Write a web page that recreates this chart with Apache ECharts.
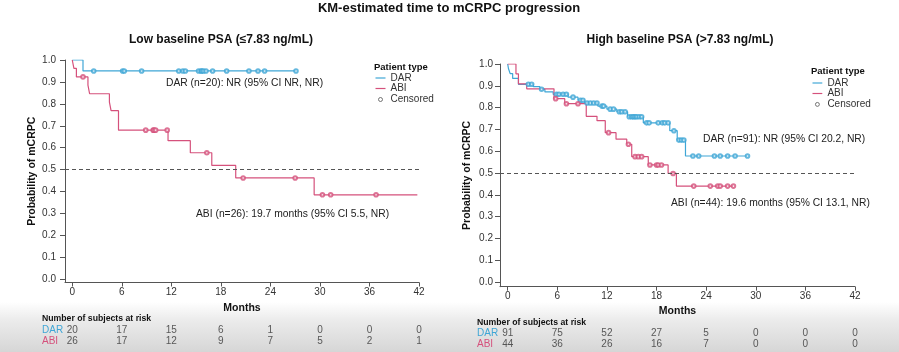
<!DOCTYPE html>
<html><head><meta charset="utf-8">
<script src="https://cdn.jsdelivr.net/npm/echarts@6/dist/echarts.min.js"></script>
<style>html,body{margin:0;padding:0;background:#fff}#c{width:899px;height:352px}</style>
</head><body><div id="c"></div>
<script>
// ---------- data ----------
const monthTicks = [0, 6, 12, 18, 24, 30, 36, 42];
const probTicks = [0, 0.1, 0.2, 0.3, 0.4, 0.5, 0.6, 0.7, 0.8, 0.9, 1.0];
const riskRows = ['ABI', 'DAR'];

// Low baseline PSA
const lowDarTimes = [0, 1.3, 27.1];
const lowDarSurv  = [1.0, 0.95, 0.95];
const lowDarCensored = [2.6, 6.1, 6.3, 8.4, 12.9, 13.4, 13.7, 15.3, 15.6, 15.7, 15.9, 16.2, 17.0, 18.7, 21.4, 22.5, 23.3, 27.1];
const lowAbiTimes = [0, 0.2, 0.5, 1.9, 2.1, 4.5, 4.7, 5.6, 11.6, 14.3, 16.9, 19.8, 29.3, 41.8];
const lowAbiSurv  = [1.0, 0.962, 0.923, 0.885, 0.846, 0.808, 0.769, 0.68, 0.632, 0.577, 0.519, 0.462, 0.385, 0.385];
const lowAbiCensored = [1.3, 8.9, 9.8, 9.9, 10.1, 11.5, 16.3, 20.7, 27.0, 30.3, 31.3, 36.8];
const lowRiskDar = [20, 17, 15, 6, 1, 0, 0, 0];
const lowRiskAbi = [26, 17, 12, 9, 7, 5, 2, 1];

// High baseline PSA
const highDarTimes = [0, 0.1, 0.3, 0.6, 1.3, 3.1, 3.9, 4.5, 5.5, 7.3, 8.5, 9.3, 10.9, 12.0, 13.2, 14.5, 16.4, 19.6, 20.5, 21.5, 29.0];
const highDarSurv  = [1.0, 0.978, 0.956, 0.934, 0.907, 0.896, 0.884, 0.872, 0.861, 0.848, 0.834, 0.821, 0.807, 0.793, 0.781, 0.758, 0.73, 0.694, 0.651, 0.578, 0.578];
const highDarCensored = [2.5, 2.9, 4.1, 5.9, 6.2, 6.7, 7.1, 7.9, 8.8, 9.1, 9.6, 10.0, 10.4, 10.8, 11.4, 11.6, 12.4, 12.8, 13.5, 13.8, 14.2, 14.7, 15.0, 15.2, 15.4, 15.6, 15.9, 16.2, 16.8, 17.1, 18.2, 18.7, 19.0, 19.4, 20.1, 20.7, 21.0, 21.3, 22.4, 23.1, 25.0, 25.7, 26.6, 27.5, 29.0];
const highAbiTimes = [0, 1.0, 1.3, 2.3, 5.6, 6.9, 9.5, 10.8, 11.8, 13.1, 14.4, 15.0, 17.0, 19.4, 20.4, 27.3];
const highAbiSurv  = [1.0, 0.955, 0.909, 0.886, 0.841, 0.818, 0.76, 0.74, 0.685, 0.655, 0.632, 0.575, 0.537, 0.498, 0.44, 0.44];
const highAbiCensored = [5.8, 7.1, 8.5, 12.2, 14.6, 15.4, 15.8, 16.2, 17.2, 18.0, 18.2, 18.6, 20.0, 22.5, 24.5, 25.4, 25.7, 26.6, 27.3];
const highRiskDar = [91, 75, 52, 27, 5, 0, 0, 0];
const highRiskAbi = [44, 36, 26, 16, 7, 0, 0, 0];

// ---------- styling ----------
const DAR_C = '#3fa6d6';
const ABI_C = '#d5517c';
const FONT = '"Liberation Sans", Arial, Helvetica, sans-serif';
const AX = '#555';

function survAt(times, surv, t) {
  let s = surv[0];
  for (let i = 0; i < times.length; i++) if (times[i] <= t) s = surv[i];
  return s;
}
const stepData = (times, surv) => times.map((t, i) => [t, surv[i]]);
const censorData = (cens, times, surv) => cens.map(t => [t, survAt(times, surv, t)]);

function plotX(gridIndex, min, nameGap, margin) {
  return {
    type: 'value', gridIndex, min, max: 42,
    axisLine: { show: true, onZero: false, lineStyle: { color: AX, width: 1 } },
    axisTick: { show: true, length: 4, customValues: monthTicks, lineStyle: { color: AX } },
    axisLabel: { customValues: monthTicks, margin, fontSize: 10, color: '#333', fontFamily: FONT },
    splitLine: { show: false },
    name: 'Months', nameLocation: 'middle', nameGap,
    nameTextStyle: { fontSize: 10.5, fontWeight: 'bold', color: '#111', fontFamily: FONT }
  };
}
function plotY(gridIndex, min, nameGap, margin) {
  return {
    type: 'value', gridIndex, min, max: 1,
    axisLine: { show: true, onZero: false, lineStyle: { color: AX, width: 1 } },
    axisTick: { show: true, length: 5, customValues: probTicks, lineStyle: { color: AX } },
    axisLabel: { customValues: probTicks, formatter: v => v.toFixed(1), margin, fontSize: 10, color: '#333', fontFamily: FONT },
    splitLine: { show: false },
    name: 'Probability of mCRPC', nameLocation: 'middle', nameGap, nameRotate: 90,
    nameTextStyle: { fontSize: 10.5, fontWeight: 'bold', color: '#111', fontFamily: FONT }
  };
}
function riskX(gridIndex, min) {
  return { type: 'value', gridIndex, min, max: 42, show: false, splitLine: { show: false } };
}
function riskY(gridIndex, margin) {
  return {
    type: 'category', gridIndex, data: riskRows,
    axisLine: { show: false }, axisTick: { show: false }, splitLine: { show: false },
    axisLabel: { interval: 0, hideOverlap: false, margin, align: 'left', fontSize: 10, fontFamily: FONT,
                 color: v => (v === 'DAR' ? DAR_C : ABI_C) }
  };
}
function kmLine(name, xi, times, surv, color, withRef) {
  const s = {
    type: 'line', name, xAxisIndex: xi, yAxisIndex: xi, step: 'end', symbol: 'none',
    data: stepData(times, surv), lineStyle: { color, width: 1.2 }, itemStyle: { color },
    silent: true, z: 3
  };
  if (withRef) {
    s.markLine = {
      silent: true, symbol: ['none', 'none'], label: { show: false },
      lineStyle: { color: '#555', type: [4, 3], width: 1 },
      emphasis: { disabled: true },
      data: [{ yAxis: 0.5 }]
    };
  }
  return s;
}
function censorSeries(xi, cens, times, surv, color) {
  return {
    type: 'scatter', name: 'Censored', xAxisIndex: xi, yAxisIndex: xi,
    symbol: 'emptyCircle', symbolSize: 3.6, silent: true, z: 4,
    itemStyle: { color, borderColor: color, borderWidth: 0.9 },
    data: censorData(cens, times, surv)
  };
}
function riskSeries(idx, row, values) {
  return {
    type: 'scatter', name: 'risk' + idx + row, xAxisIndex: idx, yAxisIndex: idx,
    symbolSize: 1, silent: true, itemStyle: { color: 'transparent' },
    data: monthTicks.map((m, i) => [m, row, values[i]]),
    label: { show: true, position: 'inside', formatter: p => String(p.value[2]), fontSize: 10, color: '#333', fontFamily: FONT }
  };
}

const LINE_ICON = 'path://M0,0L0,0M0,4.4L10,4.4L10,5.6L0,5.6ZM10,10L10,10';
const CIRC_ICON = 'path://M0,0L0,0M10,10L10,10M7,5A2,2,0,1,1,3,5A2,2,0,1,1,7,5Z';
function legendData() {
  return [
    { name: 'DAR', icon: LINE_ICON, itemStyle: { color: DAR_C, borderWidth: 0 } },
    { name: 'ABI', icon: LINE_ICON, itemStyle: { color: ABI_C, borderWidth: 0 } },
    { name: 'Censored', icon: CIRC_ICON, itemStyle: { color: 'transparent', borderColor: '#555', borderWidth: 1 } }
  ];
}
function legend(left, top, itemHeight) {
  return {
    orient: 'vertical', left, top, padding: 0, itemWidth: 10, itemHeight, itemGap: 0.5,
    selectedMode: false, data: legendData(),
    textStyle: { fontSize: 10, color: '#333', fontFamily: FONT, lineHeight: 10, padding: 0 }
  };
}
function txt(x, y, text, size, bold, align, color) {
  return {
    type: 'text', x, y, silent: true,
    style: { text, fill: color || '#222', font: (bold ? 'bold ' : '') + size + 'px ' + FONT,
             textAlign: align || 'left', textVerticalAlign: 'middle' }
  };
}

const option = {
  animation: false,
  textStyle: { fontFamily: FONT },
  grid: [
    { left: 65, top: 60, width: 354, height: 222.5, outerBoundsMode: 'none', containLabel: false },
    { left: 500, top: 64, width: 355, height: 222.7, outerBoundsMode: 'none', containLabel: false },
    { left: 65, top: 325, width: 354, height: 21, outerBoundsMode: 'none', containLabel: false },
    { left: 500, top: 328, width: 355, height: 21.5, outerBoundsMode: 'none', containLabel: false }
  ],
  xAxis: [plotX(0, -0.88, 18, 5), plotX(1, -0.93, 18, 4.5), riskX(2, -0.88), riskX(3, -0.93)],
  yAxis: [plotY(0, -0.015, 27.5, 9), plotY(1, -0.0215, 27, 7), riskY(2, 23), riskY(3, 23)],
  legend: [legend(375, 73, 10.5), legend(812, 78, 9.8)],
  series: [
    kmLine('DAR', 0, lowDarTimes, lowDarSurv, DAR_C, true),
    kmLine('ABI', 0, lowAbiTimes, lowAbiSurv, ABI_C, false),
    censorSeries(0, lowDarCensored, lowDarTimes, lowDarSurv, DAR_C),
    censorSeries(0, lowAbiCensored, lowAbiTimes, lowAbiSurv, ABI_C),
    kmLine('DAR', 1, highDarTimes, highDarSurv, DAR_C, true),
    kmLine('ABI', 1, highAbiTimes, highAbiSurv, ABI_C, false),
    censorSeries(1, highDarCensored, highDarTimes, highDarSurv, DAR_C),
    censorSeries(1, highAbiCensored, highAbiTimes, highAbiSurv, ABI_C),
    riskSeries(2, 'DAR', lowRiskDar),
    riskSeries(2, 'ABI', lowRiskAbi),
    riskSeries(3, 'DAR', highRiskDar),
    riskSeries(3, 'ABI', highRiskAbi)
  ],
  graphic: [
    { type: 'rect', silent: true, z: -10, shape: { x: 0, y: 302, width: 899, height: 50 },
      style: { fill: new echarts.graphic.LinearGradient(0, 0, 0, 1, [
        { offset: 0, color: '#ffffff' }, { offset: 0.35, color: '#ececec' }, { offset: 1, color: '#d6d6d6' }]) } },
    txt(449, 8, 'KM-estimated time to mCRPC progression', 13, true, 'center', '#111'),
    txt(221, 40, 'Low baseline PSA (\u22647.83 ng/mL)', 12, true, 'center', '#111'),
    txt(680, 40, 'High baseline PSA (>7.83 ng/mL)', 12, true, 'center', '#111'),
    txt(374, 67, 'Patient type', 9.5, true, 'left', '#111'),
    txt(811, 71, 'Patient type', 9.5, true, 'left', '#111'),
    txt(166, 83, 'DAR (n=20): NR (95% CI NR, NR)', 10.3, false, 'left', '#222'),
    txt(196, 214, 'ABI (n=26): 19.7 months (95% CI 5.5, NR)', 10.3, false, 'left', '#222'),
    txt(703, 139, 'DAR (n=91): NR (95% CI 20.2, NR)', 10.3, false, 'left', '#222'),
    txt(671, 203, 'ABI (n=44): 19.6 months (95% CI 13.1, NR)', 10.3, false, 'left', '#222'),
    txt(42, 319, 'Number of subjects at risk', 8.7, true, 'left', '#111'),
    txt(477, 323, 'Number of subjects at risk', 8.7, true, 'left', '#111')
  ]
};
const chart = echarts.init(document.getElementById('c'), null, { renderer: 'canvas' });
chart.setOption(option);
</script>
</body></html>
